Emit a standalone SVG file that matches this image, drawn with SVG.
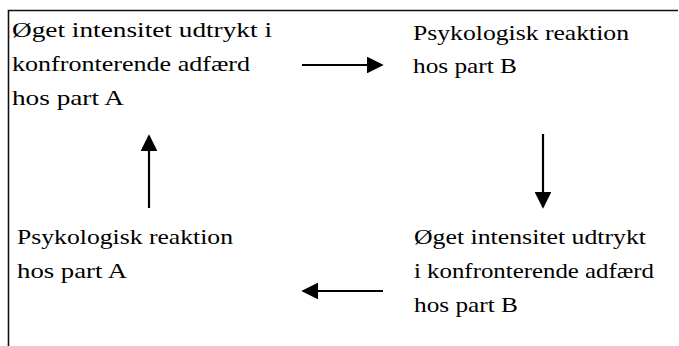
<svg xmlns="http://www.w3.org/2000/svg" width="679" height="346" viewBox="0 0 679 346">
  <style>
    .lbl { font-family: "Liberation Serif", "Times New Roman", serif; font-size: 22px; fill: #000; }
    .frame { stroke: #111; stroke-width: 1.6; fill: none; }
    .conn { stroke: #000; stroke-width: 2.2; fill: none; }
  </style>
  <defs>
    <marker id="head" viewBox="0 0 10 10" refX="9" refY="5" markerWidth="7.6" markerHeight="7.6" markerUnits="strokeWidth" orient="auto">
      <path d="M0,0 L10,5 L0,10 Z" fill="#000"/>
    </marker>
  </defs>

  <rect width="679" height="346" fill="#fff"/>

  <!-- open frame: top and left edges -->
  <path class="frame" d="M8.5,346 L8.5,10.5 L678,10.5"/>

  <g id="node-a-intensity">
    <text class="lbl" x="12" y="37" textLength="260" lengthAdjust="spacingAndGlyphs">Øget intensitet udtrykt i</text>
    <text class="lbl" x="12" y="71" textLength="238" lengthAdjust="spacingAndGlyphs">konfronterende adfærd</text>
    <text class="lbl" x="12" y="105" textLength="112" lengthAdjust="spacingAndGlyphs">hos part A</text>
  </g>

  <g id="node-b-reaction">
    <text class="lbl" x="413" y="40" textLength="216" lengthAdjust="spacingAndGlyphs">Psykologisk reaktion</text>
    <text class="lbl" x="413" y="73" textLength="104" lengthAdjust="spacingAndGlyphs">hos part B</text>
  </g>

  <g id="node-b-intensity">
    <text class="lbl" x="414" y="244" textLength="232" lengthAdjust="spacingAndGlyphs">Øget intensitet udtrykt</text>
    <text class="lbl" x="414" y="278" textLength="240" lengthAdjust="spacingAndGlyphs">i konfronterende adfærd</text>
    <text class="lbl" x="414" y="312" textLength="104" lengthAdjust="spacingAndGlyphs">hos part B</text>
  </g>

  <g id="node-a-reaction">
    <text class="lbl" x="17" y="244" textLength="216" lengthAdjust="spacingAndGlyphs">Psykologisk reaktion</text>
    <text class="lbl" x="17" y="278" textLength="110" lengthAdjust="spacingAndGlyphs">hos part A</text>
  </g>

  <g id="connectors">
    <line class="conn" x1="302" y1="65" x2="382" y2="65" marker-end="url(#head)"/>
    <line class="conn" x1="543" y1="134" x2="543" y2="207" marker-end="url(#head)"/>
    <line class="conn" x1="383" y1="291" x2="303" y2="291" marker-end="url(#head)"/>
    <line class="conn" x1="149" y1="208" x2="149" y2="136" marker-end="url(#head)"/>
  </g>
</svg>
